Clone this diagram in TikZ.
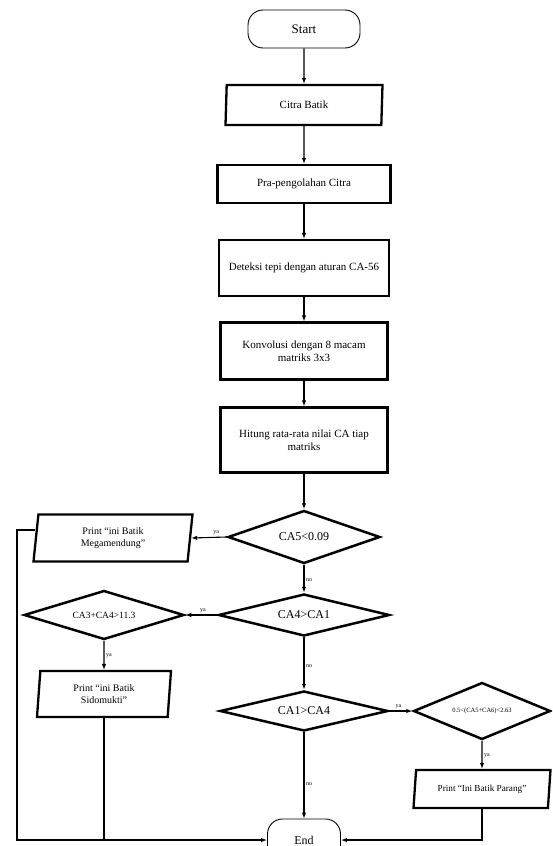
\documentclass[tikz,border=0pt]{standalone}
\usepackage{fontspec}
\setmainfont{Liberation Serif}
\usetikzlibrary{shapes.geometric,arrows.meta}
\begin{document}
\begin{tikzpicture}[x=1pt,y=-1pt,
  procbox/.style={draw, line width=2.3pt, rectangle, inner sep=2pt, align=center, font=\fontsize{11}{13}\selectfont},
  iobox/.style={draw, line width=2.3pt, trapezium, trapezium left angle=80, trapezium right angle=100, trapezium stretches body, inner sep=1pt, align=center, font=\fontsize{10}{12}\selectfont},
  decis/.style={draw, line width=2.5pt, diamond, aspect=3, inner sep=0pt, font=\fontsize{12}{14}\selectfont},
  term/.style={draw, line width=0.9pt, rectangle, rounded corners=15pt},
  arr/.style={-{Latex[length=6pt,width=4.5pt]}, line width=1.1pt},
  plain/.style={line width=1.1pt},
  lbl/.style={font=\fontsize{6}{7}\selectfont, inner sep=1.5pt}]
\useasboundingbox (0,0) rectangle (552,846);
\clip (0,0) rectangle (552,846);
\fill[white] (0,0) rectangle (552,846);

\node[term, minimum width=112pt, minimum height=38pt, font=\fontsize{13}{15}\selectfont] (start) at (304,29) {Start};
\node[iobox, minimum width=157pt, minimum height=40pt, trapezium left angle=83, trapezium right angle=97, font=\fontsize{11}{13}\selectfont] (cb) at (304,105) {Citra Batik};
\node[procbox, minimum width=173pt, minimum height=38pt] (pra) at (304,184) {Pra-pengolahan Citra};
\node[procbox, minimum width=170pt, minimum height=56pt] (det) at (304,268) {Deteksi tepi dengan aturan CA-56};
\node[procbox, minimum width=167pt, minimum height=57pt] (konv) at (304,351) {Konvolusi dengan 8 macam\\matriks 3x3};
\node[procbox, minimum width=167pt, minimum height=65pt] (hit) at (304,440) {Hitung rata-rata nilai CA tiap\\matriks};

\node[decis, minimum width=152pt, minimum height=53pt] (d1) at (304,537) {CA5<0.09};
\node[iobox, minimum width=159pt, minimum height=47pt, trapezium left angle=78, trapezium right angle=102] (mega) at (113,538) {Print “ini Batik\\Megamendung”};
\node[decis, minimum width=171pt, minimum height=42pt] (d2) at (304,615) {CA4>CA1};
\node[decis, minimum width=160pt, minimum height=49pt, font=\fontsize{9.5}{11}\selectfont] (d3) at (104,615) {CA3+CA4>11.3};
\node[iobox, minimum width=134pt, minimum height=46pt, trapezium left angle=81, trapezium right angle=99] (sido) at (104,694) {Print “ini Batik\\Sidomukti”};
\node[decis, minimum width=168pt, minimum height=40pt] (d4) at (304,711) {CA1>CA4};
\node[decis, minimum width=137pt, minimum height=57pt, font=\fontsize{6.5}{8}\selectfont] (d5) at (482,711) {0.5<(CA5+CA6)<2.63};
\node[iobox, minimum width=137pt, minimum height=38pt, trapezium left angle=76, trapezium right angle=104, font=\fontsize{9.2}{11}\selectfont] (parang) at (482,789) {Print “Ini Batik Parang”};
\node[term, minimum width=73pt, minimum height=42pt, font=\fontsize{12}{14}\selectfont] (end) at (304,840) {End};

\coordinate (lx) at (17,530);

\draw[arr] (start.south) -- (cb.north);
\draw[arr] (cb.south) -- (pra.north);
\draw[arr] (pra.south) -- (det.north);
\draw[arr] (det.south) -- (konv.north);
\draw[arr] (konv.south) -- (hit.north);
\draw[arr] (hit.south) -- (d1.north);
\draw[arr] (d1.west) -- node[lbl, above, pos=0.3] {ya} (mega.east);
\draw[arr] (d1.south) -- node[lbl, right, pos=0.55] {no} (d2.north);
\draw[arr] (d2.west) -- node[lbl, above, pos=0.45] {ya} (d3.east);
\draw[arr] (d3.south) -- node[lbl, right] {ya} (sido.north);
\draw[arr] (d2.south) -- node[lbl, right, pos=0.55] {no} (d4.north);
\draw[arr] (d4.east) -- node[lbl, above, pos=0.4] {ya} (d5.west);
\draw[arr] (d5.south) -- node[lbl, right, pos=0.55] {ya} (parang.north);
\draw[arr] (d4.south) -- node[lbl, right, pos=0.6] {no} (end.north);
\draw[arr] (parang.south) |- (end.east);
\draw[arr] ([yshift=8pt]mega.west) -- ([yshift=8pt]mega.west -| lx) |- (end.west);
\draw[plain] (sido.south) -- (sido.south |- end.west);
\end{tikzpicture}
\end{document}
